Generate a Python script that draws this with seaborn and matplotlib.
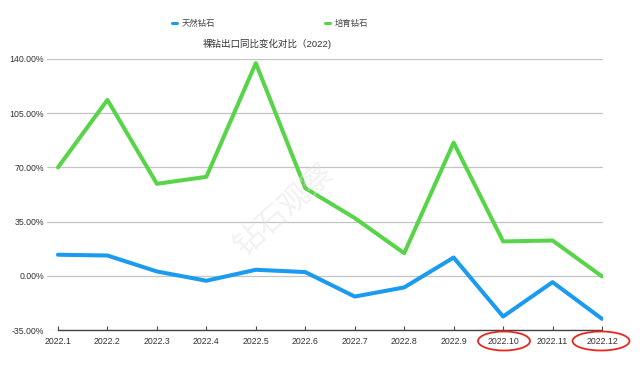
import matplotlib
matplotlib.use("Agg")
import matplotlib.pyplot as plt
import seaborn as sns
import pandas as pd
from matplotlib.lines import Line2D
from matplotlib.patches import Ellipse

months = ["2022.1", "2022.2", "2022.3", "2022.4", "2022.5", "2022.6",
          "2022.7", "2022.8", "2022.9", "2022.10", "2022.11", "2022.12"]
natural = [13.6, 13.1, 2.8, -3.2, 3.9, 2.4, -13.4, -7.5, 11.8, -26.3, -4.1, -27.8]
lab_grown = [70.0, 113.6, 59.4, 63.9, 137.3, 56.6, 37.3, 14.6, 86.0, 22.2, 22.8, -0.4]
series_names = ["天然钻石", "培育钻石"]
yticks = [-35, 0, 35, 70, 105, 140]
title = "裸钻出口同比变化对比（2022)"

sns.set_theme(style="white")
plt.rcParams['font.family'] = ['Liberation Sans', 'Noto Sans CJK SC', 'DejaVu Sans']

df = pd.DataFrame({
    "idx": list(range(len(months))) * 2,
    "value": natural + lab_grown,
    "series": [series_names[0]] * len(months) + [series_names[1]] * len(months),
})
colors = {series_names[0]: "#1a9bf0", series_names[1]: "#58d448"}

fig = plt.figure(figsize=(6.4, 3.77), dpi=100)
ax = fig.add_axes([47/640, 1-330/377, (603-47)/640, (330-59)/377])

ax.set_ylim(-35, 140)
ax.set_xlim(-0.222, 11.02)
ax.set_yticks(yticks)
ax.set_yticklabels([f"{v:.2f}%" for v in yticks])
ax.yaxis.grid(True, color="#c4c4c4", linewidth=0.9)
ax.set_axisbelow(True)

sns.lineplot(data=df, x="idx", y="value", hue="series", palette=colors,
             linewidth=2.9, ax=ax, legend=False, sort=False)

ax.set_xticks(range(len(months)))
ax.set_xticklabels(months)
ax.set_xlabel("")
ax.set_ylabel("")
for s in ["top", "right", "left"]:
    ax.spines[s].set_visible(False)
ax.spines["bottom"].set_bounds(0, 11)
ax.spines["bottom"].set_color("#444444")
ax.spines["bottom"].set_linewidth(1.0)
ax.tick_params(axis="x", direction="in", length=3, width=0.8, color="#444444",
               labelsize=6.3, labelcolor="#333333", pad=5, bottom=True)
ax.tick_params(axis="y", length=0, labelsize=6.3, labelcolor="#333333", pad=2)

# watermark
fig.text(285/640, 1-210/377, "钻石观察", fontsize=22, color="#e2e2e2", alpha=0.45,
         rotation=42, ha="center", va="center")

fig.text(267/640, 1-44/377, title, fontsize=6.8, color="#333333",
         ha="center", va="center")

handles = [Line2D([0], [0], color=colors[n], linewidth=2.2) for n in series_names]
fig.legend(handles, series_names, loc="center", bbox_to_anchor=(270/640, 1-24/377),
           ncol=2, frameon=False, fontsize=6, handlelength=0.6, handletextpad=0.6,
           columnspacing=13.2, labelcolor="#444444")

for cx, w in [(504, 52), (601, 57)]:
    e = Ellipse((cx/640, 1-341/377), w/640, 19/377, transform=fig.transFigure,
                fill=False, edgecolor="#e8281e", linewidth=1.3, clip_on=False)
    fig.add_artist(e)

fig.savefig("out.png", dpi=100)
